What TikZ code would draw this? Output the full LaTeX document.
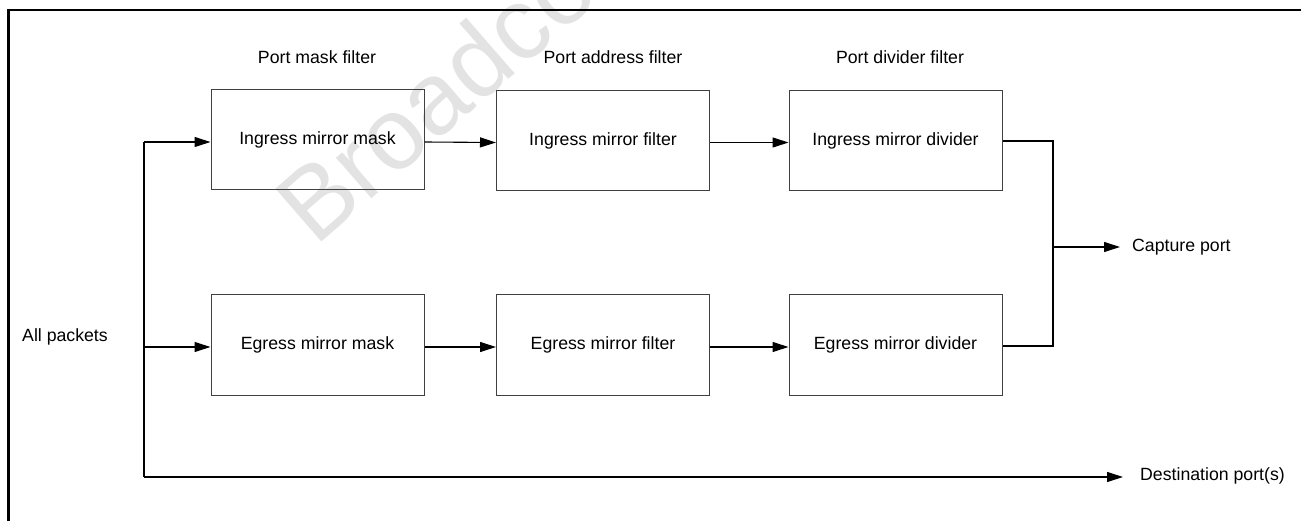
\documentclass[tikz,border=0pt]{standalone}
\usepackage{fontspec}
\setmainfont{Liberation Sans}
\usetikzlibrary{arrows.meta}
\begin{document}
\begin{tikzpicture}[x=1pt,y=-1pt,
  every node/.style={font=\fontsize{17.7}{20}\selectfont, inner sep=0pt},
  blk/.style={draw=black!75, line width=1pt, minimum width=213pt, minimum height=100pt},
  conn/.style={draw=black, line width=1.1pt},
  arr/.style={conn, -{Triangle[length=16pt,width=10pt]}},
  lbl/.style={anchor=center},
  frameline/.style={draw=black, line width=2.2pt},
  wmark/.style={text=black!11, font=\fontsize{102}{110}\selectfont, rotate=41, anchor=base west}]
\useasboundingbox (0,0) rectangle (1301,521);
\begin{scope}
\clip (0,0) rectangle (1301,521);
\node[wmark] (wm) at (315,248) {Broadcom};
\end{scope}
% frame
\draw[frameline] (8.5,521) -- (8.5,10) -- (1301,10);
% column labels
\node[lbl] (l1) at (317,57) {Port mask filter};
\node[lbl] (l2) at (613,57) {Port address filter};
\node[lbl] (l3) at (900,57) {Port divider filter};
% boxes
\node[blk] (i1) at (317.5,140) {Ingress mirror mask};
\node[blk] (i2) at (603,140.5) {Ingress mirror filter};
\node[blk] (i3) at (895.5,140.5) {Ingress mirror divider};
\node[blk] (e1) at (317.5,345) {Egress mirror mask};
\node[blk] (e2) at (603,345) {Egress mirror filter};
\node[blk] (e3) at (895.5,345) {Egress mirror divider};
% texts
\node[anchor=west] (all) at (22,337) {All packets};
\node[anchor=west] (cap) at (1132,247) {Capture port};
\node[anchor=west] (dst) at (1140,476) {Destination port(s)};
% coordinates
\coordinate (st) at (144,142);
\coordinate (sb) at (144,477);
\coordinate (se) at (144,347);
\coordinate (jt) at (1053,141);
\coordinate (jb) at (1053,346);
\coordinate (jm) at (1053,247);
% connectors
\draw[conn] (st) -- (sb);
\draw[arr] (st) -- (i1.west |- st);
\draw[arr] (se) -- (e1.west |- se);
\draw[arr] (sb) -- ([xshift=-17pt]dst.west |- sb);
\draw[arr] ([yshift=-2pt]i1.east) -- ([yshift=-2pt]i2.west);
\draw[arr] ([yshift=-2pt]i2.east) -- ([yshift=-2pt]i3.west);
\draw[arr] ([yshift=-2pt]e1.east) -- ([yshift=-2pt]e2.west);
\draw[arr] ([yshift=-2pt]e2.east) -- ([yshift=-2pt]e3.west);
\draw[conn] (i3.east |- jt) -- (jt) -- (jb) -- (e3.east |- jb);
\draw[arr] (jm) -- ([xshift=-12pt]cap.west);
\end{tikzpicture}
\end{document}
